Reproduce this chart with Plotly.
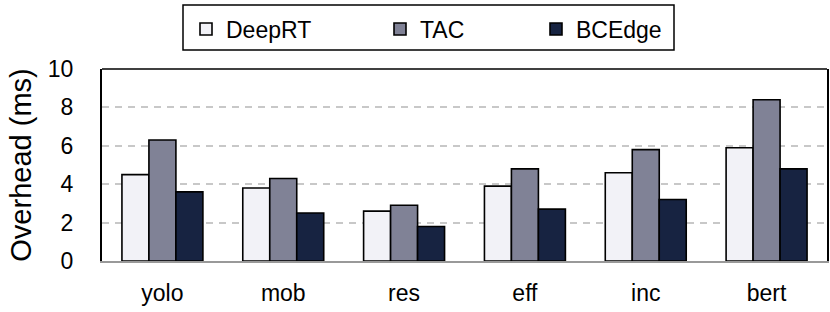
import plotly.graph_objects as go

categories = ["yolo", "mob", "res", "eff", "inc", "bert"]
deeprt = [4.5, 3.8, 2.6, 3.9, 4.6, 5.9]
tac = [6.3, 4.3, 2.9, 4.8, 5.8, 8.4]
bcedge = [3.6, 2.5, 1.8, 2.7, 3.2, 4.8]
y_ticks = [0, 2, 4, 6, 8, 10]

series = [("DeepRT", deeprt, "#f2f2f7"), ("TAC", tac, "#808296"), ("BCEdge", bcedge, "#172341")]
legend_ids = ["legend", "legend2", "legend3"]
legend_x_px = [186, 380, 536]

W, H = 830, 312
L, R, T, B = 102, 3, 69, 51
FONT = "Liberation Sans, Arial, sans-serif"

fig = go.Figure()
for (name, vals, col), lid in zip(series, legend_ids):
    fig.add_trace(go.Bar(x=categories, y=vals, name=name, legend=lid,
                         marker=dict(color=col, line=dict(color="black", width=1.6))))

legend_common = dict(orientation="h", xanchor="left", yanchor="middle",
                     xref="container", yref="container", borderwidth=0,
                     bgcolor="rgba(0,0,0,0)", font=dict(family=FONT, size=23))
legends = {}
for lid, xp in zip(legend_ids, legend_x_px):
    legends[lid] = dict(legend_common, x=xp / W, y=1 - 29 / H)

pw, ph = W - L - R, H - T - B
def px_x(p):
    return (p - L) / pw
def px_y(p):
    return 1 + (T - p) / ph

fig.update_layout(
    width=W, height=H,
    margin=dict(l=L, r=R, t=T, b=B, autoexpand=False),
    paper_bgcolor="white", plot_bgcolor="white",
    barmode="group", bargap=0.33, bargroupgap=0,
    font=dict(family=FONT, size=23, color="black"),
    showlegend=True,
    **legends,
    xaxis=dict(showline=True, linecolor="#999999", linewidth=2, mirror=False,
               ticks="", ticklabelstandoff=10, showgrid=False, automargin=False,
               tickfont=dict(family=FONT, size=23)),
    yaxis=dict(range=[0, 10], tickvals=y_ticks, showline=True, linecolor="black",
               linewidth=2, mirror=True, ticks="", ticklabelstandoff=22,
               showgrid=True, gridcolor="#c8c8c8", gridwidth=2, griddash="7px,6px",
               zeroline=False, tickfont=dict(family=FONT, size=23), automargin=False,
               title=dict(text="Overhead (ms)", font=dict(family=FONT, size=29), standoff=8)),
    shapes=[
        dict(type="line", xref="paper", yref="paper", x0=0, x1=1, y0=1, y1=1,
             line=dict(color="black", width=1.5)),
        dict(type="rect", xref="paper", yref="paper",
             x0=px_x(183), x1=px_x(674), y0=px_y(50), y1=px_y(5),
             line=dict(color="black", width=1.5), fillcolor="rgba(0,0,0,0)"),
    ],
)
fig.write_html("out.html", config={"displayModeBar": False},
               post_script="document.body.style.margin='0';document.body.style.overflow='hidden';")
